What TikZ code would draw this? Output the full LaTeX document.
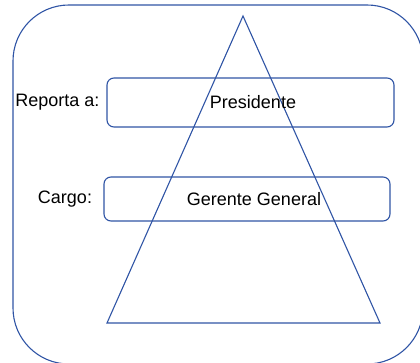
\documentclass[tikz,border=0pt]{standalone}
\usepackage{fontspec}
\setmainfont{Liberation Sans}
\definecolor{lineblue}{RGB}{47,84,165}
\begin{document}
\begin{tikzpicture}[x=1pt,y=-1pt,
  outline/.style={draw=lineblue,line width=1.1pt},
  fieldbox/.style={outline,rounded corners=7pt},
  lbl/.style={font=\fontsize{18}{21}\selectfont,text=black,inner sep=0pt}]
\useasboundingbox (0,0) rectangle (420,363);
\clip (0,0) rectangle (420,363);
\draw[outline,rounded corners=56pt] (13,5) rectangle (423,364);
\coordinate (apex) at (243,16);
\coordinate (bl) at (107,323);
\coordinate (br) at (380,323);
\draw[outline] (apex) -- (bl) -- (br) -- cycle;
\draw[fieldbox] (107,78) rectangle (394,127);
\draw[fieldbox] (104,177) rectangle (390,221);
\node[lbl] (rep) at (57.5,102) {Reporta a:};
\node[lbl] (pres) at (253,102) {Presidente};
\node[lbl] (car) at (65,199) {Cargo:};
\node[lbl] (ger) at (254,199) {Gerente General};
\end{tikzpicture}
\end{document}
